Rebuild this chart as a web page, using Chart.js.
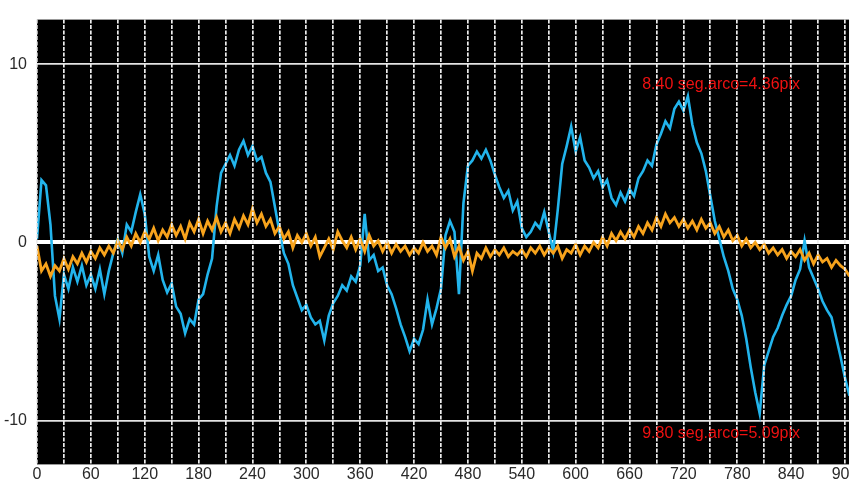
<!DOCTYPE html>
<html lang="pt-br">
  <head>
    <meta charset="UTF-8" />
    <title>seg.arco</title>
    <script src="https://cdn.jsdelivr.net/npm/chart.js"></script>
    <style>
      html, body { margin: 0; padding: 0; background: #ffffff; }
      .moldura { width: 849px; height: 484px; overflow: hidden; position: relative; }
      .grafico { width: 880px; height: 484px; }
    </style>
  </head>
  <body>
    <div class="moldura">
      <div class="grafico"><canvas id="myChartCanvas"></canvas></div>
    </div>
  </body>
</html>

<script>
  // amostras a cada 5 unidades do eixo x (0 .. 905)
  const PASSO = 5;

  // serie azul
  const azul = [
    0.2, 3.5, 3.2, 1.0, -3.0, -4.3, -1.8, -2.6, -1.4, -2.2,
    -1.3, -2.4, -1.8, -2.6, -1.5, -2.9, -1.6, -0.6, 0.2, -0.6,
    1.0, 0.6, 1.7, 2.7, 1.6, -0.8, -1.6, -0.7, -2.1, -2.8,
    -2.3, -3.6, -4.0, -5.1, -4.3, -4.6, -3.2, -2.9, -1.8, -0.9,
    2.0, 3.9, 4.4, 4.9, 4.3, 5.2, 5.7, 4.9, 5.4, 4.6,
    4.8, 3.9, 3.4, 2.0, 0.6, -0.6, -1.2, -2.4, -3.1, -3.8,
    -3.5, -4.2, -4.6, -4.4, -5.5, -4.1, -3.4, -3.0, -2.4, -2.7,
    -1.9, -2.2, -1.3, 1.6, -1.0, -0.7, -1.6, -1.4, -2.4, -2.9,
    -3.7, -4.6, -5.3, -6.1, -5.4, -5.7, -4.9, -3.2, -4.6, -3.7,
    -2.6, 0.4, 1.2, 0.6, -2.9, 2.2, 4.3, 4.6, 5.1, 4.7,
    5.2, 4.6, 3.8, 3.1, 2.5, 2.9, 1.8, 2.3, 0.8, 0.3,
    0.6, 1.1, 0.8, 1.7, 0.6, -0.5, 1.8, 4.4, 5.4, 6.5,
    5.1, 5.9, 4.6, 4.2, 3.6, 4.0, 3.1, 3.5, 2.5, 2.1,
    2.8, 2.3, 3.0, 2.6, 3.6, 4.0, 4.6, 4.3, 5.5, 6.1,
    6.8, 6.4, 7.5, 7.9, 7.4, 8.2, 6.6, 5.6, 5.0, 4.0,
    2.6, 1.2, 0.2, -0.8, -1.6, -2.6, -3.2, -4.1, -5.4, -7.0,
    -8.4, -9.6, -6.9, -6.1, -5.3, -4.8, -4.1, -3.5, -3.0, -2.1,
    -1.5, 0.1, -1.4, -2.0, -2.6, -3.3, -3.8, -4.2, -5.3, -6.4,
    -7.6, -8.6
  ];

  // serie laranja
  const laranja = [
    -0.2, -1.6, -1.2, -1.9, -1.3, -1.6, -0.9, -1.5, -0.8, -1.2,
    -0.6, -1.1, -0.5, -0.9, -0.3, -0.7, -0.2, -0.6, 0.1, -0.4,
    0.3, -0.2, 0.5, 0.0, 0.6, 0.2, 0.8, 0.1, 0.7, 0.3,
    1.0, 0.4, 0.9, 0.2, 1.1, 0.6, 1.3, 0.5, 1.2, 0.7,
    1.4, 0.6, 1.1, 0.5, 1.3, 0.8, 1.5, 1.0, 1.9, 1.1,
    1.6, 0.9, 1.3, 0.5, 0.9, 0.2, 0.6, -0.3, 0.4, 0.0,
    0.5, -0.2, 0.3, -0.8, -0.3, 0.2, -0.4, 0.6, 0.1, -0.3,
    0.3, -0.4, 0.2, -0.5, 0.4, -0.2, 0.1, -0.5, 0.0, -0.6,
    -0.1, -0.5, -0.2, -0.7, -0.3, -0.6, 0.0, -0.5, -0.2, -0.7,
    0.3, -0.3, 0.2, -0.8, -0.2, -1.0, -0.5, -1.6, -0.6, -0.9,
    -0.3, -0.8, -0.4, -0.7, -0.3, -0.8, -0.5, -0.7, -0.4, -0.8,
    -0.3, -0.6, -0.2, -0.7, -0.3, -0.6, -0.2, -0.9, -0.4, -0.6,
    -0.1, -0.7, -0.2, -0.5, 0.0, -0.3, 0.3, -0.2, 0.5, 0.1,
    0.6, 0.2, 0.7, 0.3, 0.9, 0.5, 1.1, 0.7, 1.4, 0.9,
    1.6, 1.1, 1.4, 0.9, 1.3, 0.8, 1.2, 0.7, 1.3, 0.8,
    1.1, 0.5, 0.9, 0.3, 0.7, 0.1, 0.4, -0.2, 0.2, -0.3,
    0.0, -0.4, -0.1, -0.6, -0.3, -0.7, -0.4, -0.9, -0.5, -0.8,
    -0.4, -1.0, -0.6, -1.2, -0.7, -1.1, -0.9, -1.4, -1.0, -1.3,
    -1.5, -1.9
  ];

  // marcas do eixo
  const ticksX = [0, 30, 60, 90, 120, 150, 180, 210, 240, 270, 300, 330, 360, 390, 420, 450,
    480, 510, 540, 570, 600, 630, 660, 690, 720, 750, 780, 810, 840, 870, 900, 930];
  const ticksY = [-10, 0, 10];

  // textos vermelhos
  const textos = [
    { texto: "8.40 seg.arco=4.36pix", x: 762, y: 8.86 },
    { texto: "9.80 seg.arco=5.09pix", x: 762, y: -10.75 }
  ];

  const tempo = azul.map((_, i) => i * PASSO);

  // fundo preto da area do grafico
  const fundoPreto = {
    id: "fundoPreto",
    beforeDraw(chart) {
      const a = chart.chartArea;
      const ctx = chart.ctx;
      ctx.save();
      ctx.fillStyle = "#000000";
      ctx.fillRect(a.left, a.top, a.right - a.left, a.bottom - a.top);
      ctx.restore();
    }
  };

  const textosVermelhos = {
    id: "textosVermelhos",
    afterDraw(chart) {
      const ctx = chart.ctx;
      ctx.save();
      ctx.fillStyle = "#ee1111";
      ctx.font = "16px 'Liberation Sans', Arial, sans-serif";
      ctx.textAlign = "center";
      ctx.textBaseline = "middle";
      textos.forEach(function (t) {
        ctx.fillText(t.texto, chart.scales.x.getPixelForValue(t.x), chart.scales.y.getPixelForValue(t.y));
      });
      ctx.restore();
    }
  };

  const config = {
    type: "line",
    data: {
      labels: tempo,
      datasets: [
        {
          label: "laranja",
          data: laranja.map((v, i) => ({ x: tempo[i], y: v })),
          borderColor: "#f7a31c",
          borderWidth: 2.8,
          pointRadius: 0,
          tension: 0
        },
        {
          label: "azul",
          data: azul.map((v, i) => ({ x: tempo[i], y: v })),
          borderColor: "#22b4ec",
          borderWidth: 2.6,
          pointRadius: 0,
          tension: 0
        }
      ]
    },
    options: {
      responsive: true,
      maintainAspectRatio: false,
      animation: false,
      layout: { padding: { top: 17, right: 0, left: 0, bottom: 0 } },
      plugins: { legend: { display: false }, tooltip: { enabled: false } },
      scales: {
        x: {
          type: "linear",
          min: 0,
          max: 939,
          afterBuildTicks: function (scale) {
            scale.ticks = ticksX.map((v) => ({ value: v }));
          },
          afterFit: function (scale) {
            scale.height = 19;
          },
          ticks: {
            autoSkip: false,
            maxRotation: 0,
            padding: 1,
            color: "#2a2a2a",
            font: { family: "'Liberation Sans', Arial, sans-serif", size: 16 },
            callback: function (v) {
              return v % 60 === 0 ? String(v) : "";
            }
          },
          grid: {
            color: "#ececec",
            lineWidth: 1.7,
            drawTicks: false,
            z: 1
          },
          border: { display: false, dash: [4, 1.5] }
        },
        y: {
          min: -12.45,
          max: 12.5,
          afterBuildTicks: function (scale) {
            scale.ticks = ticksY.map((v) => ({ value: v }));
          },
          afterFit: function (scale) {
            scale.width = 37;
          },
          ticks: {
            padding: 10,
            color: "#2a2a2a",
            font: { family: "'Liberation Sans', Arial, sans-serif", size: 16 }
          },
          grid: {
            drawTicks: false,
            color: (c) => (c.tick && c.tick.value === 0 ? "#ffffff" : "#e4e4e4"),
            lineWidth: (c) => (c.tick && c.tick.value === 0 ? 4 : 1.7)
          },
          border: { display: false }
        }
      }
    },
    plugins: [fundoPreto, textosVermelhos]
  };

  new Chart(document.getElementById("myChartCanvas"), config);
</script>
